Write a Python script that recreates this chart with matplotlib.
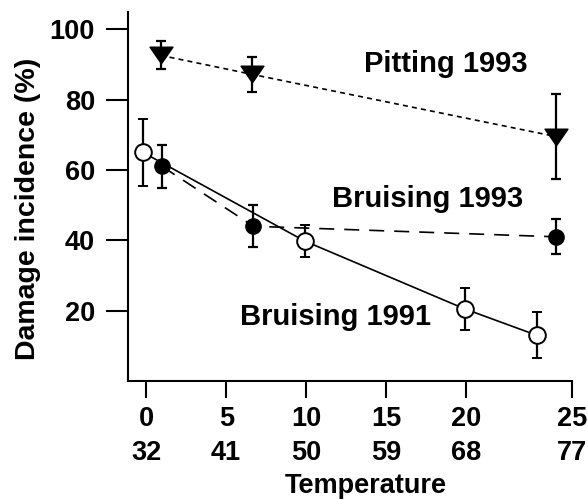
import numpy as np
import matplotlib.pyplot as plt
from matplotlib.path import Path

# temperature in deg C, damage incidence in %
pit93_t = [0.9, 6.6, 25.6]
pit93_y = [92.6, 87.2, 69.5]
pit93_err = [4.0, 5.0, 12.0]

bru93_t = [1.0, 6.7, 25.6]
bru93_y = [61.0, 44.0, 41.0]
bru93_err = [6.0, 6.0, 5.0]

bru91_t = [-0.2, 9.9, 19.9, 24.4]
bru91_y = [65.0, 39.8, 20.5, 13.0]
bru91_err = [9.5, 4.5, 6.0, 6.5]

xtick_pos = [0, 5, 10, 15, 20, 26.6]
xtick_c = ['0', '5', '10', '15', '20', '25']
xtick_f = ['32', '41', '50', '59', '68', '77']
ytick_pos = [20, 40, 60, 80, 100]

plt.rcParams['font.family'] = ['Liberation Sans', 'DejaVu Sans']
plt.rcParams['font.weight'] = 'bold'

fig = plt.figure(figsize=(5.88, 5.0), dpi=100)
ax = fig.add_axes([0.2172, 0.238, 0.7556, 0.7386])

tri = Path([(-1, 0.725), (1, 0.725), (0, -0.725), (-1, 0.725)],
           [Path.MOVETO, Path.LINETO, Path.LINETO, Path.CLOSEPOLY])

ekw = dict(ecolor='black', elinewidth=1.6, capsize=3.5, capthick=1.6)

ax.errorbar(pit93_t, pit93_y, yerr=pit93_err, color='black', lw=1.2,
            dashes=(3.0, 2.5), marker=tri, ms=16.5, mfc='black', mec='black', **ekw)
ax.errorbar(bru93_t, bru93_y, yerr=bru93_err, color='black', lw=1.2,
            dashes=(9, 6), marker='o', ms=11, mfc='black', mec='black', **ekw)
ax.errorbar(bru91_t, bru91_y, yerr=bru91_err, color='black', lw=1.2,
            ls='-', marker='o', ms=12, mfc='white', mec='black', mew=1.4, **ekw)

ax.text(18.7, 87.9, 'Pitting 1993', ha='center', va='baseline', fontsize=21, fontweight='bold')
ax.text(17.6, 49.6, 'Bruising 1993', ha='center', va='baseline', fontsize=21, fontweight='bold')
ax.text(11.8, 15.9, 'Bruising 1991', ha='center', va='baseline', fontsize=21, fontweight='bold')

ax.set_xlim(-1.15, 26.6)
ax.set_ylim(0, 105)

ax.spines['top'].set_visible(False)
ax.spines['right'].set_visible(False)
for s in ['left', 'bottom']:
    ax.spines[s].set_linewidth(1.5)

ax.set_xticks(xtick_pos)
ax.set_xticklabels([c + '\n' + f for c, f in zip(xtick_c, xtick_f)],
                   fontsize=19.5, fontweight='bold', linespacing=1.4)
ax.set_yticks(ytick_pos)
ax.set_yticklabels([str(v) for v in ytick_pos], fontsize=19.5, fontweight='bold')
ax.tick_params(axis='x', direction='out', length=12, width=1.5, pad=6)
ax.tick_params(axis='y', direction='out', length=15.5, width=1.5, pad=8)

ax.set_xlabel('Temperature', fontsize=19.5, fontweight='bold')
ax.xaxis.set_label_coords(0.535, -0.25)
ax.set_ylabel('Damage incidence (%)', fontsize=20.5, fontweight='bold')
ax.yaxis.set_label_coords(-0.195, 0.465)

plt.savefig('out.png', dpi=100)
